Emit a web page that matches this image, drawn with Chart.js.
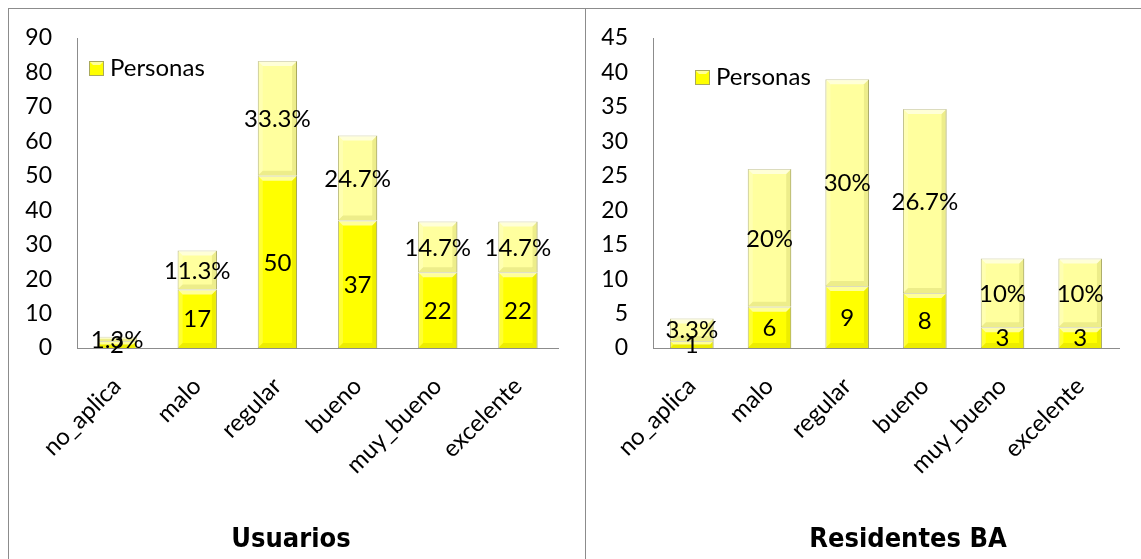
<!DOCTYPE html>
<html lang="es">
<head>
    <meta charset="UTF-8">
    <title>Personas por calificación</title>
    <script src="https://cdn.jsdelivr.net/npm/chart.js"></script>
    <style>
        body {
            margin: 0;
            background: #ffffff;
            overflow: hidden;
            width: 1141px;
            height: 559px;
            position: relative;
        }
        .panel {
            position: absolute;
            top: 8px;
            height: 620px;
            border: 1px solid #8c8c8c;
            box-sizing: border-box;
        }
        #panelUsuarios { left: 8px; width: 578px; }
        #panelResidentes { left: 585px; width: 700px; }
        canvas { position: absolute; }
        #usuariosChart { left: 9px; top: 9px; }
        #residentesChart { left: 586px; top: 9px; }
    </style>
</head>
<body>
    <div class="panel" id="panelUsuarios"></div>
    <div class="panel" id="panelResidentes"></div>
    <canvas id="usuariosChart" width="575" height="550"></canvas>
    <canvas id="residentesChart" width="555" height="550"></canvas>

    <script>
        const categorias = ['no_aplica', 'malo', 'regular', 'bueno', 'muy_bueno', 'excelente'];

        const usuariosPersonas = [2, 17, 50, 37, 22, 22];
        const usuariosPct = [1.3, 11.3, 33.3, 24.7, 14.7, 14.7];

        const residentesPersonas = [1, 6, 9, 8, 3, 3];
        const residentesPct = [3.3, 20, 30, 26.7, 10, 10];

        const AMARILLO = '#ffff00';
        const AMARILLO_CLARO = '#ffff9e';
        const BORDE = '#a9a95c';
        const FUENTE = 'Lato, "Open Sans", sans-serif';

        Chart.defaults.font.family = FUENTE;
        Chart.defaults.color = '#000';

        function poly(ctx, pts, color) {
            ctx.beginPath();
            ctx.moveTo(pts[0][0], pts[0][1]);
            for (let i = 1; i < pts.length; i++) ctx.lineTo(pts[i][0], pts[i][1]);
            ctx.closePath();
            ctx.fillStyle = color;
            ctx.fill();
        }

        // relieve biselado sobre cada barra + etiquetas de valor, leyenda y título
        const barrasPlugin = {
            id: 'barras',
            afterDatasetsDraw(chart) {
                const ctx = chart.ctx;
                ctx.save();
                chart.data.datasets.forEach((ds, di) => {
                    chart.getDatasetMeta(di).data.forEach(el => {
                        const x0 = el.x - el.width / 2, x1 = el.x + el.width / 2;
                        const y0 = Math.min(el.y, el.base), y1 = Math.max(el.y, el.base);
                        const d = Math.min(5, (y1 - y0) / 2);
                        poly(ctx, [[x0, y0], [x1, y0], [x1 - d, y0 + d], [x0 + d, y0 + d]], 'rgba(255,255,255,0.6)');
                        poly(ctx, [[x0, y0], [x0 + d, y0 + d], [x0 + d, y1 - d], [x0, y1]], 'rgba(255,255,255,0.2)');
                        poly(ctx, [[x1, y0], [x1 - d, y0 + d], [x1 - d, y1 - d], [x1, y1]], 'rgba(110,110,0,0.12)');
                        poly(ctx, [[x0, y1], [x0 + d, y1 - d], [x1 - d, y1 - d], [x1, y1]], 'rgba(110,110,0,0.12)');
                    });
                });
                ctx.font = '24px ' + FUENTE;
                ctx.fillStyle = '#000';
                ctx.textAlign = 'center';
                ctx.textBaseline = 'middle';
                chart.data.datasets.forEach((ds, di) => {
                    chart.getDatasetMeta(di).data.forEach((el, i) => {
                        const v = ds.data[i];
                        const txt = di === 0 ? String(v) : v + '%';
                        ctx.fillText(txt, el.x, (el.y + el.base) / 2 + 1);
                    });
                });
                ctx.restore();
            },
            afterDraw(chart, args, opts) {
                const ctx = chart.ctx;
                const a = chart.chartArea;
                const x = a.left + opts.dx, y = a.top + opts.dy;
                ctx.save();
                // leyenda dentro del área de trazado
                ctx.fillStyle = AMARILLO;
                ctx.strokeStyle = BORDE;
                ctx.fillRect(x, y, 15, 15);
                ctx.strokeRect(x + 0.5, y + 0.5, 14, 14);
                poly(ctx, [[x + 1, y + 1], [x + 14, y + 1], [x + 11, y + 4], [x + 4, y + 4]], 'rgba(255,255,255,0.6)');
                ctx.font = '24px ' + FUENTE;
                ctx.fillStyle = '#000';
                ctx.textBaseline = 'middle';
                ctx.fillText(chart.data.datasets[0].label, x + 21, y + 7);
                // título bajo el eje
                ctx.font = 'bold 27px "DejaVu Sans Condensed", "DejaVu Sans", sans-serif';
                ctx.textAlign = 'center';
                ctx.fillText(opts.titulo, opts.tituloX, chart.height - 19);
                ctx.restore();
            }
        };

        function crearGrafico(id, titulo, personas, pct, maxY, paso, cfg) {
            new Chart(document.getElementById(id), {
                type: 'bar',
                data: {
                    labels: categorias,
                    datasets: [
                        {
                            label: 'Personas',
                            data: personas,
                            backgroundColor: AMARILLO,
                            borderColor: BORDE,
                            borderWidth: 1
                        },
                        {
                            label: '%',
                            data: pct,
                            backgroundColor: AMARILLO_CLARO,
                            borderColor: BORDE,
                            borderWidth: 1
                        }
                    ]
                },
                options: {
                    responsive: false,
                    animation: false,
                    datasets: {
                        bar: { categoryPercentage: 1, barPercentage: cfg.barra }
                    },
                    layout: {
                        padding: { top: 29, right: cfg.derecha, left: 0, bottom: 45 }
                    },
                    scales: {
                        x: {
                            stacked: true,
                            grid: { display: false, drawTicks: false },
                            border: { display: true, color: '#8c8c8c' },
                            ticks: {
                                minRotation: 45,
                                maxRotation: 45,
                                padding: 24,
                                font: { size: 24 }
                            },
                            afterFit(scale) { scale.height = 166; }
                        },
                        y: {
                            stacked: true,
                            min: 0,
                            max: maxY,
                            grid: { display: false, drawTicks: false },
                            border: { display: true, color: '#8c8c8c' },
                            ticks: {
                                stepSize: paso,
                                padding: 25,
                                font: { size: 23 }
                            },
                            afterFit(scale) {
                                scale.width = cfg.ejeY;
                                scale.paddingTop = 0;
                                scale.paddingBottom = 0;
                            }
                        }
                    },
                    plugins: {
                        legend: { display: false },
                        tooltip: { enabled: false },
                        title: { display: false },
                        barras: { dx: cfg.leyendaX, dy: cfg.leyendaY, titulo: titulo, tituloX: cfg.tituloX }
                    }
                },
                plugins: [barrasPlugin]
            });
        }

        crearGrafico('usuariosChart', 'Usuarios', usuariosPersonas, usuariosPct, 90, 10,
            { barra: 0.49, derecha: 26, ejeY: 68, leyendaX: 12, leyendaY: 23, tituloX: 282 });
        crearGrafico('residentesChart', 'Residentes BA', residentesPersonas, residentesPct, 45, 5,
            { barra: 0.56, derecha: 22, ejeY: 67, leyendaX: 42, leyendaY: 32, tituloX: 322 });
    </script>
</body>
</html>
